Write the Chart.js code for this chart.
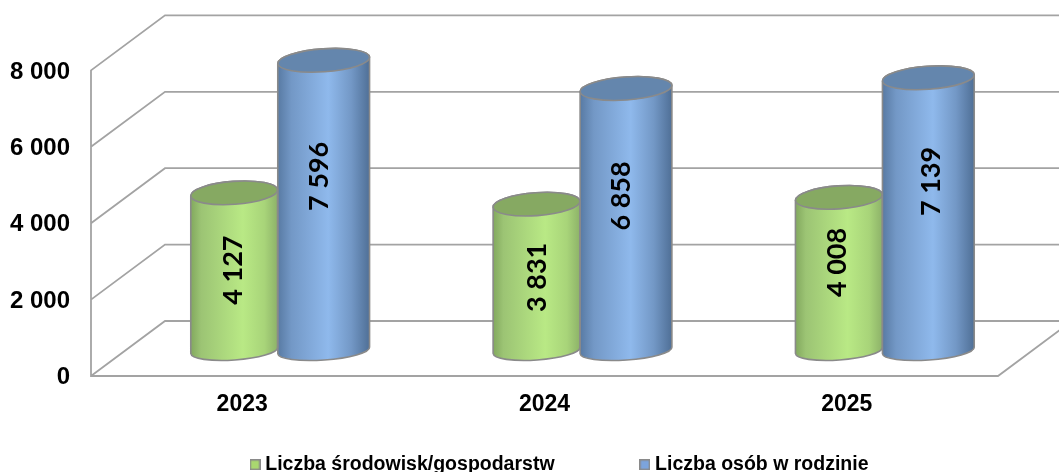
<!DOCTYPE html>
<html lang="pl">
<head>
<meta charset="utf-8">
<title>Liczba środowisk i osób</title>
<style>html,body{margin:0;padding:0;background:#fff;overflow:hidden}canvas{display:block}</style>
<script src="https://cdn.jsdelivr.net/npm/chart.js@4/dist/chart.umd.min.js"></script>
</head>
<body>
<canvas id="c" width="1059" height="472"></canvas>
<script>
const categories = ['2023', '2024', '2025'];
const seriesNames = ['Liczba środowisk/gospodarstw', 'Liczba osób w rodzinie'];
const households = [4127, 3831, 4008];
const persons = [7596, 6858, 7139];
const tickValues = [0, 2000, 4000, 6000, 8000];

// layout of the pseudo-3D scene
const DEPTH_X = 74, DEPTH_Y = 55;       // back wall offset
const BAR_DX = 35.5, BAR_DY = -25.5;    // bars stand mid-depth
const BAR_W = [87, 92], RY = 11.5, RY_BASE = 9.5, TILT = -0.07;
const GRID = '#a3a3a3';
const labelHeights = [[0.51, 0.50, 0.575], [0.60, 0.59, 0.62]];
const labelShift = [[-1, 1, -2], [-4.5, -4.5, 2.5]];
const palette = [
  {top: '#86a962', key: '#a9d86f', stops: [[0, '#82a85e'], [0.12, '#9cc474'], [0.6, '#b9e985'], [0.85, '#a8d479'], [1, '#8db269']]},
  {top: '#6486ad', key: '#7ca4dc', stops: [[0, '#587aa3'], [0.15, '#7398c6'], [0.55, '#8fb9ec'], [0.8, '#7398c6'], [1, '#4f6f96']]}
];

const fmt = v => String(v).replace(/\B(?=(\d{3})+$)/g, ' ');

function barFill(ctx) {
  const d = ctx.datasetIndex;
  if (ctx.type !== 'data' || !ctx.chart.scales.x) return palette[d].key;
  const mid = ctx.chart.scales.x.getPixelForValue(ctx.dataIndex);
  const left = d === 0 ? mid - BAR_W[0] : mid;
  const g = ctx.chart.ctx.createLinearGradient(left, 0, left + BAR_W[d], 0);
  palette[d].stops.forEach(s => g.addColorStop(s[0], s[1]));
  return g;
}

function silhouette(c, el) {
  const rx = el.width / 2;
  c.moveTo(el.x - rx * Math.cos(TILT), el.y - rx * Math.sin(TILT));
  c.ellipse(el.x, el.base, rx, RY_BASE, TILT, Math.PI, 0, true);
  c.ellipse(el.x, el.y, rx, RY, TILT, 0, Math.PI, true);
  c.closePath();
}

function marker(color) {
  const m = document.createElement('canvas');
  m.width = 11; m.height = 11;
  const c = m.getContext('2d');
  c.fillStyle = color; c.fillRect(0, 0, 11, 11);
  c.strokeStyle = '#8a8a8a'; c.lineWidth = 1.5; c.strokeRect(0.75, 0.75, 9.5, 9.5);
  return m;
}

const scene = {
  id: 'scene',
  beforeLayout(chart) {
    const l = chart.legend;
    if (l && !l._wrapped) {
      l._wrapped = true;
      const fit = l.fit.bind(l);
      l.fit = function () { fit(); this.height = 20; };
    }
  },
  afterLayout(chart) {
    const l = chart.legend, pad = l.options.labels.padding;
    l.left = 254.5 - pad; l.right = 1059; l.top = 455 - pad; l.bottom = 472;
  },
  beforeDatasetsDraw(chart) {
    const c = chart.ctx, y = chart.scales.y, a = chart.chartArea;
    c.save();
    c.strokeStyle = GRID; c.lineWidth = 1.8; c.lineCap = 'round';
    c.beginPath();
    const zero = y.getPixelForValue(0);
    c.moveTo(a.left, y.getPixelForValue(8000)); c.lineTo(a.left, zero); c.lineTo(a.right, zero);
    c.lineTo(a.right + DEPTH_X, zero - DEPTH_Y);
    y.ticks.forEach(t => {
      const p = y.getPixelForValue(t.value);
      c.moveTo(a.left, p);
      c.lineTo(a.left + DEPTH_X, p - DEPTH_Y);
      c.lineTo(chart.width + 5, p - DEPTH_Y);
    });
    c.stroke();
    c.restore();
    c.save();
    c.translate(BAR_DX, BAR_DY);
  },
  beforeDatasetDraw(chart, args) {
    const c = chart.ctx, els = args.meta.data;
    els.forEach(el => {
      c.beginPath(); silhouette(c, el);
      c.fillStyle = el.options.backgroundColor; c.fill();
    });
    c.save();
    c.beginPath();
    els.forEach(el => silhouette(c, el));
    c.clip();
  },
  afterDatasetDraw(chart, args) {
    const c = chart.ctx;
    c.restore();
    c.strokeStyle = '#8a8a8a'; c.lineWidth = 1.6;
    args.meta.data.forEach(el => {
      c.beginPath(); silhouette(c, el); c.stroke();
      c.beginPath(); c.ellipse(el.x, el.y, el.width / 2, RY, TILT, 0, Math.PI * 2);
      c.fillStyle = palette[args.index].top; c.fill(); c.stroke();
    });
  },
  afterDatasetsDraw(chart) {
    const c = chart.ctx, y = chart.scales.y;
    c.font = 'bold 27px Lato';
    c.fillStyle = '#000'; c.textAlign = 'center'; c.textBaseline = 'middle';
    chart.data.datasets.forEach((ds, d) => {
      chart.getDatasetMeta(d).data.forEach((el, i) => {
        c.save();
        c.translate(el.x + labelShift[d][i], y.getPixelForValue(ds.data[i] * labelHeights[d][i]));
        c.rotate(-Math.PI / 2);
        c.fillText(fmt(ds.data[i]), 0, 0);
        c.restore();
      });
    });
    c.restore();
  }
};

new Chart(document.getElementById('c'), {
  type: 'bar',
  data: {
    labels: categories,
    datasets: [
      {label: seriesNames[0], data: households, backgroundColor: barFill, borderWidth: 0, barThickness: BAR_W[0], clip: false},
      {label: seriesNames[1], data: persons, backgroundColor: barFill, borderWidth: 0, barThickness: BAR_W[1], clip: false}
    ]
  },
  plugins: [scene],
  options: {
    responsive: false,
    animation: false,
    layout: {padding: {left: 0, right: 61, top: 15, bottom: 0}},
    scales: {
      x: {
        grid: {display: false}, border: {display: false},
        ticks: {color: '#000', padding: 7, maxRotation: 0, font: {family: 'Liberation Sans', weight: 'bold', size: 23}},
        afterFit(s) { s.height = 76; }
      },
      y: {
        min: 0, max: 9450,
        grid: {display: false}, border: {display: false},
        afterBuildTicks(s) { s.ticks = tickValues.map(value => ({value})); },
        ticks: {
          color: '#000', padding: 13, labelOffset: 1.5,
          font: {family: 'Liberation Sans', weight: 'bold', size: 24},
          callback: v => fmt(v)
        },
        afterFit(s) { s.width = 91; s.paddingTop = 0; s.paddingBottom = 0; }
      }
    },
    plugins: {
      tooltip: {enabled: false},
      legend: {
        position: 'bottom', align: 'start',
        labels: {
          usePointStyle: true, boxWidth: 1, boxHeight: 11, padding: 89.75, color: '#000',
          font: {family: 'Liberation Sans', weight: 'bold', size: 19.5},
          generateLabels: chart => chart.data.datasets.map((ds, i) => ({
            text: ds.label, datasetIndex: i, hidden: false, lineWidth: 0,
            fontColor: '#000', pointStyle: marker(palette[i].key)
          }))
        }
      }
    }
  }
});
</script>
</body>
</html>
